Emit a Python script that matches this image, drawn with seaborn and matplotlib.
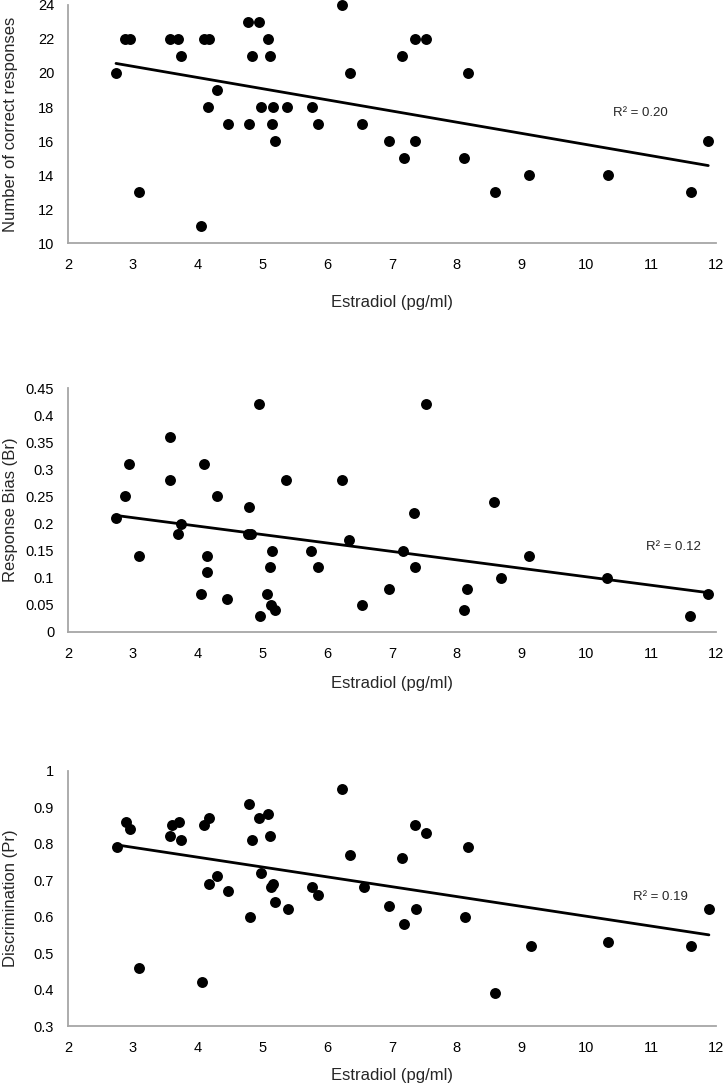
import matplotlib
matplotlib.use("Agg")
import matplotlib.pyplot as plt
import numpy as np
import pandas as pd
import seaborn as sns

# values
x_correct = [2.74, 2.88, 2.96, 3.09, 3.57, 3.70, 3.75, 4.05, 4.10, 4.17, 4.16, 4.30,
             4.47, 4.77, 4.80, 4.84, 4.95, 4.98, 5.08, 5.12, 5.14, 5.16, 5.19, 5.38,
             5.76, 5.85, 6.22, 6.35, 6.54, 6.95, 7.15, 7.18, 7.35, 7.36, 7.52, 8.11,
             8.17, 8.59, 9.12, 10.33, 11.61, 11.88]
y_correct = [20, 22, 22, 13, 22, 22, 21, 11, 22, 22, 18, 19,
             17, 23, 17, 21, 23, 18, 22, 21, 17, 18, 16, 18,
             18, 17, 24, 20, 17, 16, 21, 15, 22, 16, 22, 15,
             20, 13, 14, 14, 13, 16]

x_bias = [2.74, 2.88, 2.94, 3.09, 3.57, 3.58, 3.69, 3.74, 4.05, 4.10, 4.15, 4.15,
          4.30, 4.46, 4.79, 4.77, 4.83, 4.95, 4.96, 5.07, 5.11, 5.15, 5.13, 5.19,
          5.37, 5.75, 5.85, 6.22, 6.34, 6.54, 6.95, 7.17, 7.34, 7.36, 7.52, 8.11,
          8.16, 8.58, 8.68, 9.11, 10.32, 11.60, 11.87]
y_bias = [0.21, 0.25, 0.31, 0.14, 0.36, 0.28, 0.18, 0.20, 0.07, 0.31, 0.14, 0.11,
          0.25, 0.06, 0.23, 0.18, 0.18, 0.42, 0.03, 0.07, 0.12, 0.15, 0.05, 0.04,
          0.28, 0.15, 0.12, 0.28, 0.17, 0.05, 0.08, 0.15, 0.22, 0.12, 0.42, 0.04,
          0.08, 0.24, 0.10, 0.14, 0.10, 0.03, 0.07]

x_discr = [2.75, 2.89, 2.95, 3.10, 3.58, 3.60, 3.71, 3.75, 4.06, 4.10, 4.17, 4.17,
           4.30, 4.47, 4.79, 4.81, 4.84, 4.95, 4.98, 5.09, 5.12, 5.13, 5.16, 5.19,
           5.39, 5.76, 5.85, 6.23, 6.35, 6.56, 6.96, 7.16, 7.18, 7.36, 7.37, 7.53,
           8.12, 8.17, 8.59, 9.14, 10.33, 11.62, 11.89]
y_discr = [0.79, 0.86, 0.84, 0.46, 0.82, 0.85, 0.86, 0.81, 0.42, 0.85, 0.87, 0.69,
           0.71, 0.67, 0.91, 0.60, 0.81, 0.87, 0.72, 0.88, 0.82, 0.68, 0.69, 0.64,
           0.62, 0.68, 0.66, 0.95, 0.77, 0.68, 0.63, 0.76, 0.58, 0.85, 0.62, 0.83,
           0.60, 0.79, 0.39, 0.52, 0.53, 0.52, 0.62]

ylabels = ["Number of correct responses", "Response Bias (Br)", "Discrimination (Pr)"]
r2_labels = ["R² = 0.20", "R² = 0.12", "R² = 0.19"]
r2_pos = [(10.41, 17.65), (10.92, 0.157), (10.72, 0.654)]
ylims = [(10, 24), (0, 0.45), (0.3, 1.0)]
ysteps = [2, 0.05, 0.1]

sns.set_style("white")
plt.rcParams["font.family"] = ["Liberation Sans", "DejaVu Sans"]

fig = plt.figure(figsize=(7.24, 10.84), dpi=100)
boxes = [[0.094, 0.7758, 0.895, 0.2196],
         [0.094, 0.417, 0.895, 0.225],
         [0.094, 0.0535, 0.895, 0.2355]]
xpads = [16.5, 10.5, 9]

panels = [(x_correct, y_correct), (x_bias, y_bias), (x_discr, y_discr)]
spine_col = "#a6a6a6"

for i, (xs, ys) in enumerate(panels):
    ax = fig.add_axes(boxes[i])
    df = pd.DataFrame({"x": xs, "y": ys})
    sns.regplot(data=df, x="x", y="y", ax=ax, scatter=False, ci=None, truncate=True,
                line_kws={"color": "black", "lw": 2})
    sns.scatterplot(data=df, x="x", y="y", ax=ax, color="black", marker="o", s=62,
                    edgecolor="black", linewidth=0, clip_on=False, zorder=3)
    lo, hi = ylims[i]
    ax.set_xlim(2, 12)
    ax.set_ylim(lo, hi)
    ax.set_xticks(np.arange(2, 13, 1))
    yt = np.round(np.arange(lo, hi + ysteps[i] / 2, ysteps[i]), 2)
    ax.set_yticks(yt)
    ax.set_yticklabels([f"{v:g}" for v in yt])
    ax.set_xlabel("Estradiol (pg/ml)", fontsize=12, labelpad=xpads[i])
    ax.set_ylabel(ylabels[i], fontsize=12)
    ax.yaxis.set_label_coords(-0.077, 0.5)
    for s in ["top", "right"]:
        ax.spines[s].set_visible(False)
    for s in ["left", "bottom"]:
        ax.spines[s].set_color(spine_col)
        ax.spines[s].set_linewidth(1.3)
    ax.tick_params(axis="both", direction="out", length=4, width=1.2,
                   color=spine_col, labelsize=10.5, labelcolor="black", pad=6)
    ax.tick_params(axis="x", pad=7)
    tx, ty = r2_pos[i]
    ax.text(tx, ty, r2_labels[i], fontsize=9.5, va="center", ha="left")

fig.savefig("out.png", dpi=100)
